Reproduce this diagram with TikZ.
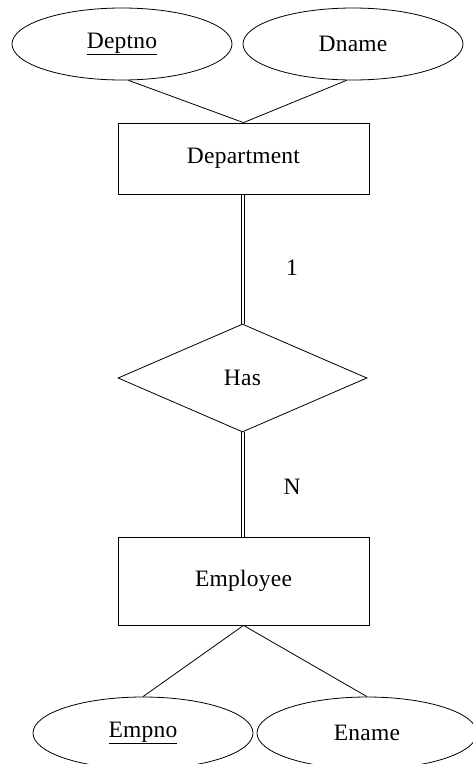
\documentclass[tikz,border=0pt]{standalone}
\usepackage{fontspec}
\setmainfont{Liberation Serif}[LetterSpace=1]
\usetikzlibrary{shapes.geometric}
\begin{document}
\begin{tikzpicture}[x=1pt,y=-1pt,
  every node/.style={font=\fontsize{23.5}{26}\selectfont},
  attr/.style={draw,ellipse,line width=0.8pt,minimum width=220pt,minimum height=72pt,inner sep=0pt},
  entity/.style={draw,rectangle,line width=0.8pt,minimum width=251pt,inner sep=0pt},
  rel/.style={draw,diamond,line width=0.8pt,minimum width=249pt,minimum height=108pt,inner sep=0pt,aspect=2.3},
  link/.style={line width=0.8pt},
  dlink/.style={line width=0.8pt}]
\useasboundingbox (0,0) rectangle (472,764);
% attributes of Department
\node[attr] (deptno) at (122,44) {\underline{Deptno}};
\node[attr] (dname) at (353,44) {Dname};
% entities
\node[entity,minimum height=71pt] (dept) at (243.5,158.5) {Department};
\node[entity,minimum height=88pt] (emp) at (243.5,581) {Employee};
% relationship
\node[rel] (has) at (242.5,378) {Has};
% attributes of Employee
\node[attr] (empno) at (143,733) {\underline{Empno}};
\node[attr] (ename) at (367,733) {Ename};
% attribute links
\draw[link] (deptno.-80) -- (dept.north);
\draw[link] (dname.-100) -- (dept.north);
\draw[link] (emp.south) -- (empno.north);
\draw[link] (emp.south) -- (ename.north);
% total participation: two parallel strokes
\foreach \dx in {-1.6,1.6} {
  \draw[dlink] ([xshift=\dx pt]dept.south -| has.north) -- ([xshift=\dx pt]has.north);
  \draw[dlink] ([xshift=\dx pt]has.south) -- ([xshift=\dx pt]emp.north -| has.south);
}
% cardinalities
\node (one) at (292,268) {1};
\node (many) at (292,487) {N};
\end{tikzpicture}
\end{document}
